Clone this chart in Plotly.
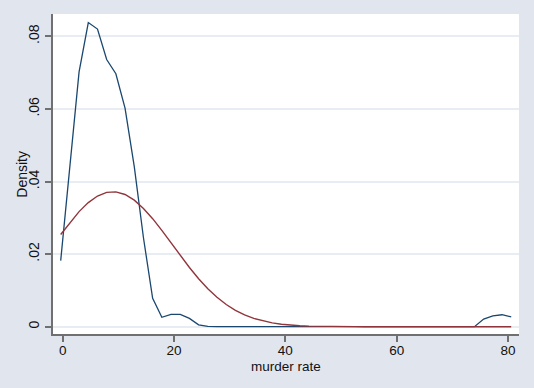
import plotly.graph_objects as go

# evaluation grid (murder rate)
murder_rate = [-0.36, 1.29, 2.94, 4.60, 6.25, 7.90, 9.55, 11.20, 12.86, 14.51,
               16.16, 17.81, 19.46, 21.12, 22.77, 24.42, 26.07, 27.72, 29.38, 31.03,
               32.68, 34.33, 35.98, 37.64, 39.29, 40.94, 42.59, 44.24, 45.90, 47.55,
               49.20, 50.85, 52.50, 54.16, 55.81, 57.46, 59.11, 60.76, 62.42, 64.07,
               65.72, 67.37, 69.02, 70.68, 72.33, 73.98, 75.63, 77.28, 78.93, 80.58]

kernel_density = [0.0182, 0.0450, 0.0702, 0.0838, 0.0820, 0.0736, 0.0697, 0.0602, 0.0441, 0.0245,
                  0.0078, 0.0026, 0.0034, 0.0034, 0.0023, 0.0005, 0.0001, 0.0, 0.0, 0.0,
                  0.0, 0.0, 0.0, 0.0, 0.0, 0.0, 0.0, 0.0, 0.0, 0.0,
                  0.0, 0.0, 0.0, 0.0, 0.0, 0.0, 0.0, 0.0, 0.0, 0.0,
                  0.0, 0.0, 0.0, 0.0, 0.0, 0.0, 0.0021, 0.0030, 0.0033, 0.0027]

normal_density = [0.02541, 0.02872, 0.03171, 0.03419, 0.03600, 0.03700, 0.03715, 0.03643, 0.03486, 0.03259,
                  0.02976, 0.02654, 0.02311, 0.01963, 0.01630, 0.01322, 0.01047, 0.00810, 0.00611, 0.00450,
                  0.00324, 0.00228, 0.00157, 0.00105, 0.00069, 0.00044, 0.00027, 0.00017, 0.00010, 0.00006,
                  0.00003, 0.00002, 0.00001, 0.0, 0.0, 0.0, 0.0, 0.0, 0.0, 0.0,
                  0.0, 0.0, 0.0, 0.0, 0.0, 0.0, 0.0, 0.0, 0.0, 0.0]

x_ticks = [0, 20, 40, 60, 80]
y_ticks = [0, 0.02, 0.04, 0.06, 0.08]
y_tick_labels = ["0", ".02", ".04", ".06", ".08"]
x_title = "murder rate"
y_title = "Density"

fig = go.Figure()
fig.add_trace(go.Scatter(x=murder_rate, y=kernel_density, mode="lines",
                         line=dict(color="#1a476f", width=1.3), showlegend=False))
fig.add_trace(go.Scatter(x=murder_rate, y=normal_density, mode="lines",
                         line=dict(color="#90353b", width=1.4), showlegend=False))

font = "Liberation Sans, Arial, Helvetica, sans-serif"
fig.update_layout(
    width=534, height=388,
    margin=dict(l=53, r=15, t=14, b=54, autoexpand=False),
    paper_bgcolor="#e1e5ee",
    plot_bgcolor="#ffffff",
    font=dict(family=font, size=14, color="#111111"),
    showlegend=False,
)
fig.update_xaxes(
    range=[-1.743, 81.98], tickvals=x_ticks, ticktext=[str(v) for v in x_ticks],
    showgrid=False, zeroline=False,
    showline=True, linecolor="#707070", linewidth=2,
    ticks="outside", ticklen=6, tickwidth=2, tickcolor="#707070",
    ticklabelstandoff=-3, tickfont=dict(size=13.5),
    automargin=False,
)
fig.update_yaxes(
    range=[-0.00201, 0.08615], tickvals=y_ticks, ticktext=y_tick_labels, tickangle=-90,
    showgrid=True, gridcolor="#e8ecf3", gridwidth=1.5, zeroline=False,
    showline=True, linecolor="#707070", linewidth=2,
    ticks="outside", ticklen=6, tickwidth=2, tickcolor="#707070",
    automargin=False,
)
fig.add_annotation(text=x_title, xref="paper", yref="paper", x=0.5, y=-0.1,
                   xanchor="center", yanchor="middle", showarrow=False,
                   font=dict(family=font, size=13.5, color="#111111"))
fig.add_annotation(text=y_title, xref="paper", yref="paper", x=-0.0672, y=0.5,
                   xanchor="center", yanchor="middle", textangle=-90, showarrow=False,
                   font=dict(family=font, size=14, color="#111111"))

fig.write_html("out.html", config={"displayModeBar": False},
               post_script="document.body.style.margin='0px';document.body.style.padding='0px';")
